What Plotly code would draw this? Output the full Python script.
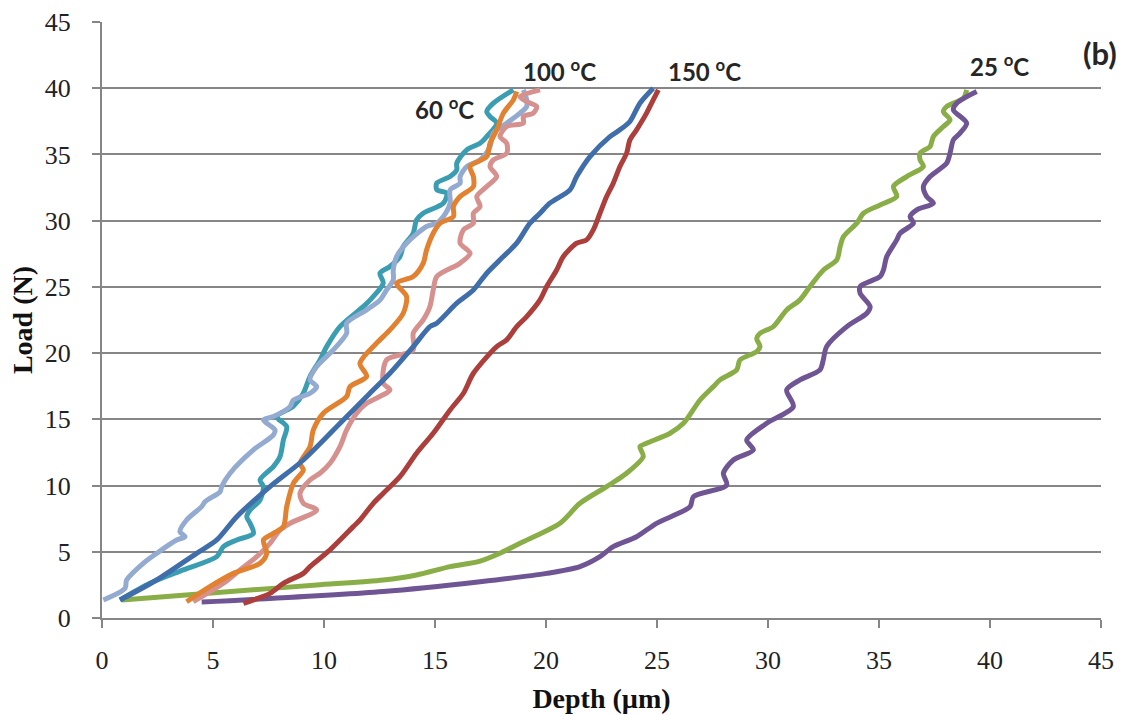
import plotly.graph_objects as go

# Load–depth curves, two runs per temperature
depth_60a = [0.81, 2.16, 3.66, 5.17, 5.47, 6.07, 6.82, 6.67, 6.52, 6.67, 7.12, 7.27, 7.12, 7.72, 8.02, 8.17,
             8.32, 7.87, 8.62, 9.07, 9.37, 9.82, 10.12, 10.72, 11.77, 12.07, 12.67, 12.52, 12.97, 13.42, 13.57,
             14.02, 14.17, 14.47, 15.38, 15.53, 15.08, 15.08, 15.68, 15.98, 15.98, 16.43, 17.03, 17.33, 17.78,
             17.48, 17.33, 17.63, 18.53]
load_60a = [1.36, 2.62, 3.63, 4.63, 5.39, 5.89, 6.39, 7.15, 7.65, 8.16, 8.91, 9.92, 10.42, 11.43, 12.19, 13.44,
            14.45, 15.2, 16.0, 16.97, 18.23, 19.49, 20.49, 22.0, 23.51, 24.0, 25.28, 26.03, 26.54, 27.29, 28.05,
            29.05, 30.06, 30.56, 31.32, 32.07, 32.33, 32.83, 33.33, 33.84, 34.34, 35.35, 35.85, 36.35, 37.36,
            37.86, 38.24, 38.87, 39.88]

depth_60b = [0.06, 1.04, 1.11, 1.86, 2.46, 3.36, 3.74, 3.51, 3.81, 4.49, 4.65, 5.32, 5.39, 5.77, 6.82, 7.72,
             7.79, 7.27, 7.72, 8.47, 8.62, 9.37, 9.67, 9.37, 9.67, 10.42, 11.02, 11.02, 11.92, 12.52, 12.82,
             13.12, 13.12, 13.27, 13.72, 14.62, 15.08, 15.38, 15.68, 15.68, 16.13, 16.13, 16.43, 17.03, 17.48,
             17.63, 18.23, 18.83, 19.13, 19.13, 18.98]
load_60b = [1.36, 2.24, 2.87, 4.13, 4.88, 5.89, 6.14, 6.52, 7.40, 8.41, 8.79, 9.54, 9.92, 10.93, 12.69, 13.82,
            14.2, 14.95, 15.21, 15.96, 16.46, 16.97, 17.47, 17.98, 18.98, 20.24, 21.5, 22.26, 23.26, 24.0, 24.77,
            25.53, 26.28, 27.29, 28.30, 29.56, 29.81, 30.31, 31.32, 32.33, 32.83, 33.33, 34.09, 34.59, 35.60,
            36.61, 37.36, 38.12, 38.62, 39.12, 39.88]

depth_100a = [3.81, 4.86, 5.92, 7.12, 7.42, 7.27, 7.72, 8.17, 8.32, 8.62, 9.07, 8.92, 9.37, 9.52, 9.97, 11.02,
              11.17, 11.92, 11.62, 12.37, 12.97, 13.57, 13.72, 13.27, 14.02, 14.47, 14.62, 14.92, 15.23, 15.83,
              15.83, 16.13, 16.73, 16.73, 16.58, 17.33, 17.48, 17.78, 18.08, 18.53, 18.68]
load_100a = [1.23, 2.37, 3.37, 4.13, 4.88, 5.89, 6.39, 6.90, 8.41, 10.17, 11.18, 11.68, 12.94, 14.20, 15.46, 16.72,
             17.47, 18.23, 19.23, 20.75, 21.75, 23.01, 24.27, 25.28, 25.78, 26.79, 27.79, 29.05, 29.81, 30.31,
             31.07, 31.82, 32.58, 33.33, 34.09, 34.84, 35.85, 36.86, 38.12, 39.12, 39.75]

depth_100b = [4.11, 5.47, 6.22, 6.97, 7.57, 8.02, 8.47, 9.67, 9.07, 8.92, 9.37, 9.82, 10.27, 10.72, 11.02, 11.47,
              11.92, 12.97, 12.67, 12.82, 14.02, 14.02, 14.47, 14.77, 14.92, 15.08, 16.13, 16.58, 16.13, 16.28,
              16.73, 16.73, 17.03, 16.88, 17.33, 17.78, 17.48, 17.63, 18.23, 18.23, 17.93, 18.23, 18.98, 18.98,
              19.43, 19.58, 19.13, 18.83, 19.73]
load_100b = [1.23, 2.62, 3.63, 4.63, 5.64, 6.65, 7.15, 8.16, 8.66, 9.42, 10.42, 10.93, 11.68, 12.94, 14.20, 15.46,
             16.21, 17.22, 17.72, 19.49, 20.24, 21.5, 22.51, 23.51, 24.77, 25.78, 26.79, 27.54, 28.30, 29.30,
             29.81, 30.56, 31.07, 31.82, 32.58, 33.33, 34.09, 34.59, 35.09, 35.85, 36.35, 37.11, 37.36, 37.86,
             38.12, 38.62, 38.99, 39.37, 39.88]

depth_150a = [0.81, 2.46, 4.26, 5.17, 6.07, 7.57, 9.07, 10.87, 12.07, 12.97, 14.02, 14.77, 15.08, 15.98, 16.73,
              17.33, 18.08, 18.68, 19.28, 19.73, 20.17, 21.08, 21.38, 21.98, 22.88, 23.33, 23.78, 24.23, 24.83]
load_150a = [1.36, 2.87, 4.88, 5.89, 7.65, 9.92, 11.93, 14.95, 16.97, 18.48, 20.49, 22.0, 22.26, 23.77, 24.77,
             26.03, 27.29, 28.30, 29.81, 30.56, 31.32, 32.33, 33.33, 34.84, 36.35, 36.86, 37.49, 38.87, 40.0]

depth_150b = [6.37, 7.57, 8.17, 9.07, 9.37, 10.27, 11.32, 11.62, 12.22, 12.67, 13.42, 14.17, 14.92, 15.68, 16.28,
              16.73, 17.78, 18.23, 18.68, 19.13, 19.73, 20.03, 20.48, 20.78, 21.38, 21.83, 22.13, 22.43, 22.73,
              23.03, 23.33, 23.63, 23.78, 24.08, 24.53, 24.83, 25.06]
load_150b = [1.11, 1.86, 2.62, 3.37, 3.88, 5.14, 6.90, 7.40, 8.66, 9.42, 10.67, 12.44, 13.95, 15.71, 16.97,
             18.48, 20.49, 21.0, 22.0, 22.76, 24.02, 25.03, 26.28, 27.29, 28.30, 28.55, 29.30, 30.56, 31.82,
             32.83, 34.09, 35.09, 36.10, 36.86, 38.12, 39.12, 39.88]

depth_25a = [0.9, 6.67, 9.67, 12.67, 14.17, 15.68, 17.03, 18.0, 18.83, 20.63, 21.53, 22.73, 23.63, 24.38, 24.23,
             24.53, 25.59, 26.19, 26.94, 27.54, 27.84, 28.59, 28.74, 29.49, 29.64, 29.49, 29.64, 30.24, 30.84,
             31.44, 31.89, 32.5, 33.1, 33.25, 33.4, 34.0, 34.3, 35.05, 35.8, 35.65, 36.25, 37.0, 36.85, 36.85,
             37.3, 37.45, 37.9, 38.2, 37.9, 38.05, 38.8, 38.95]
load_25a = [1.36, 2.11, 2.49, 2.87, 3.25, 3.88, 4.3, 4.95, 5.64, 7.15, 8.66, 9.92, 10.93, 12.19, 12.94,
            13.19, 13.95, 14.70, 16.46, 17.47, 17.98, 18.73, 19.49, 20.12, 20.49, 21.1, 21.5, 22.0, 23.26,
            24.02, 25.03, 26.28, 27.04, 28.05, 28.80, 29.81, 30.56, 31.19, 31.82, 32.58, 33.33, 34.09, 34.59, 35.10,
            35.60, 36.35, 37.11, 37.61, 38.24, 38.62, 39.25, 39.88]

depth_25b = [4.49, 12.67, 17.03, 20.03, 21.53, 22.43, 23.03, 24.08, 24.98, 26.49, 26.64, 28.14, 27.99, 28.44,
             29.34, 29.04, 29.94, 31.14, 30.84, 31.44, 32.34, 32.49, 32.64, 33.55, 34.45, 34.6, 34.15, 34.15,
             35.05, 35.2, 35.35, 35.8, 35.95, 36.55, 36.4, 36.7, 37.45, 37.15, 37.0, 37.3, 38.05, 38.2, 38.35,
             38.65, 38.95, 38.35, 38.5, 39.4]
load_25b = [1.2, 2.0, 2.74, 3.37, 3.88, 4.63, 5.39, 6.14, 7.15, 8.41, 9.16, 10.04, 10.93, 11.93,
            12.69, 13.44, 14.70, 15.96, 17.22, 17.98, 18.73, 19.49, 20.49, 22.0, 23.01, 23.51, 24.52, 25.03,
            25.78, 26.28, 27.29, 28.55, 29.05, 29.81, 30.31, 30.82, 31.32, 31.82, 32.58, 33.33, 34.34, 35.10, 36.10,
            36.61, 37.36, 38.37, 38.87, 39.75]

series = [
    ("25 °C (1)", depth_25a, load_25a, "#8AAE47"),
    ("25 °C (2)", depth_25b, load_25b, "#6F5594"),
    ("60 °C (1)", depth_60a, load_60a, "#3A9DB2"),
    ("60 °C (2)", depth_60b, load_60b, "#93AAD1"),
    ("100 °C (2)", depth_100b, load_100b, "#D6918F"),
    ("100 °C (1)", depth_100a, load_100a, "#E2812F"),
    ("150 °C (1)", depth_150a, load_150a, "#3F6EAA"),
    ("150 °C (2)", depth_150b, load_150b, "#AC3F3B"),
]

fig = go.Figure()
for name, xs, ys, color in series:
    fig.add_trace(go.Scatter(
        x=xs, y=ys, name=name, mode="lines",
        line=dict(color=color, width=5, shape="spline", smoothing=0.8),
        showlegend=False,
    ))

axis_gray = "#868686"
tick_font = dict(family="Liberation Serif", size=26, color="#222222")
title_font = dict(family="Liberation Serif", size=28, color="#111111")

fig.update_xaxes(
    range=[0, 45], dtick=5, tick0=0,
    showgrid=False, zeroline=False,
    showline=True, linecolor=axis_gray, linewidth=2,
    ticks="outside", ticklen=8, tickwidth=2, tickcolor=axis_gray,
    tickfont=tick_font, ticklabelstandoff=10,
    title=dict(text="<b>Depth (µm)</b>", font=title_font, standoff=14),
)
fig.update_yaxes(
    range=[0, 45], dtick=5, tick0=0,
    showgrid=True, gridcolor=axis_gray, gridwidth=2, zeroline=False,
    showline=True, linecolor=axis_gray, linewidth=2,
    ticks="outside", ticklen=8, tickwidth=2, tickcolor=axis_gray,
    tickfont=tick_font, ticklabelstandoff=16,
    title=dict(text="<b>Load (N)</b>", font=title_font, standoff=4),
)

label_font = dict(family="Lato", size=24, color="#262626")
labels = [
    ("<b>60 <sup>o</sup>C</b>", 15.41, 38.52, 24),
    ("<b>100 <sup>o</sup>C</b>", 20.63, 41.39, 24),
    ("<b>150 <sup>o</sup>C</b>", 27.14, 41.39, 24),
    ("<b>25 <sup>o</sup>C</b>", 40.45, 41.77, 24),
    ("<b>(b)</b>", 44.95, 42.67, 31),
]
for text, lx, ly, size in labels:
    fig.add_annotation(x=lx, y=ly, xref="x", yref="y", text=text, showarrow=False,
                       font=dict(label_font, size=size), xanchor="center", yanchor="middle")

fig.update_layout(
    width=1135, height=715,
    margin=dict(l=102, r=34, t=22, b=97, autoexpand=False),
    paper_bgcolor="white", plot_bgcolor="white",
)

fig.write_html("out.html")
